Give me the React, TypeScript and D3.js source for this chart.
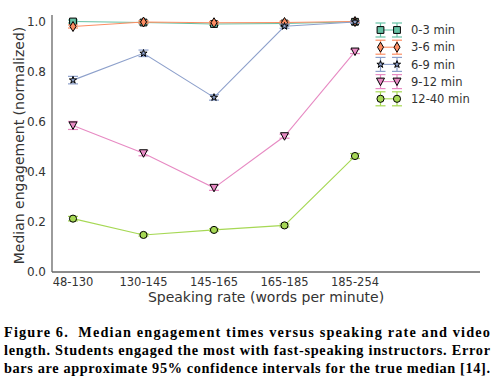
import * as d3 from "d3";
import React from "react";

const categories = ["48-130", "130-145", "145-165", "165-185", "185-254"];
const seriesNames = ["0-3 min", "3-6 min", "6-9 min", "9-12 min", "12-40 min"];
const seriesColors = ["#66c2a5", "#fc8d62", "#8da0cb", "#e78ac3", "#a6d854"];
const seriesMarkers = ["square", "thin_diamond", "star", "triangle_down", "circle"];

const values0to3 = [1.0, 0.996, 0.99, 0.992, 0.999];
const values3to6 = [0.98, 0.998, 0.995, 0.996, 1.0];
const values6to9 = [0.766, 0.873, 0.697, 0.981, 0.998];
const values9to12 = [0.585, 0.474, 0.336, 0.542, 0.88];
const values12to40 = [0.213, 0.148, 0.168, 0.186, 0.463];

const err0to3 = [0.006, 0.005, 0.005, 0.005, 0.004];
const err3to6 = [0.006, 0.005, 0.005, 0.005, 0.004];
const err6to9 = [0.015, 0.013, 0.011, 0.008, 0.005];
const err9to12 = [0.016, 0.01, 0.01, 0.008, 0.008];
const err12to40 = [0.009, 0.005, 0.005, 0.006, 0.01];

const allValues = [values0to3, values3to6, values6to9, values9to12, values12to40];
const allErrors = [err0to3, err3to6, err6to9, err9to12, err12to40];
const yTicks = [0.0, 0.2, 0.4, 0.6, 0.8, 1.0];

const captionLines = [
	"Figure 6.  Median engagement times versus speaking rate and video",
	"length. Students engaged the most with fast-speaking instructors. Error",
	"bars are approximate 95% confidence intervals for the true median [14].",
];

const W = 501;
const H = 384;
const plot = { left: 52, right: 480, top: 15, bottom: 272 };

const markerPath = (kind: string): string => {
	switch (kind) {
		case "square":
			return d3.symbol(d3.symbolSquare, 46)() as string;
		case "thin_diamond":
			return "M0,-5L3,0L0,5L-3,0Z";
		case "star":
			return d3.symbol(d3.symbolStar, 16)() as string;
		case "triangle_down":
			return "M-4,-3.5L4,-3.5L0,4Z";
		default:
			return d3.symbol(d3.symbolCircle, 40)() as string;
	}
};

const Marker = ({ kind, color, x, y }: { kind: string; color: string; x: number; y: number }) => (
	<path
		d={markerPath(kind)}
		transform={`translate(${x},${y})`}
		fill={color}
		stroke="#000"
		strokeWidth={1}
	/>
);

const ErrorBar = ({ x, y0, y1, color }: { x: number; y0: number; y1: number; color: string }) => (
	<g stroke={color} strokeWidth={1.2}>
		<line x1={x} x2={x} y1={y0} y2={y1} />
		<line x1={x - 5} x2={x + 5} y1={y0} y2={y0} />
		<line x1={x - 5} x2={x + 5} y1={y1} y2={y1} />
	</g>
);

export default function App() {
	const x = d3.scaleLinear().domain([0, 4]).range([73, 355]);
	const y = d3.scaleLinear().domain([0, 1]).range([plot.bottom, 21.5]);
	const line = d3
		.line<number>()
		.x((_, i) => x(i))
		.y((d) => y(d));

	const font = "DejaVu Sans, sans-serif";

	return (
		<svg width={W} height={H} style={{ position: "absolute", left: 0, top: 0, background: "#fff" }}>
			{/* spines */}
			<line x1={plot.left} x2={plot.left} y1={plot.top} y2={plot.bottom} stroke="#666" strokeWidth={1.3} />
			<line x1={plot.left} x2={plot.right} y1={plot.bottom} y2={plot.bottom} stroke="#666" strokeWidth={1.3} />

			{yTicks.map((t) => (
				<text key={t} x={plot.left - 6} y={y(t)} dy="0.36em" textAnchor="end" fontFamily={font} fontSize={12} fill="#333">
					{t.toFixed(1)}
				</text>
			))}
			{categories.map((c, i) => (
				<text key={c} x={x(i)} y={286} textAnchor="middle" fontFamily={font} fontSize={11.5} fill="#333">
					{c}
				</text>
			))}

			<text x={plot.left + (plot.right - plot.left) / 2} y={302} textAnchor="middle" fontFamily={font} fontSize={14} fill="#333">
				Speaking rate (words per minute)
			</text>
			<text
				transform={`translate(24,${(plot.top + plot.bottom) / 2 + 2}) rotate(-90)`}
				textAnchor="middle"
				fontFamily={font}
				fontSize={14}
				fill="#333"
			>
				Median engagement (normalized)
			</text>

			{allValues.map((vals, s) => (
				<g key={seriesNames[s]}>
					<path d={line(vals) as string} fill="none" stroke={seriesColors[s]} strokeWidth={1.1} />
					{vals.map((v, i) => (
						<ErrorBar key={i} x={x(i)} y0={y(v + allErrors[s][i])} y1={y(v - allErrors[s][i])} color={seriesColors[s]} />
					))}
					{vals.map((v, i) => (
						<Marker key={i} kind={seriesMarkers[s]} color={seriesColors[s]} x={x(i)} y={y(v)} />
					))}
				</g>
			))}

			{/* legend */}
			{seriesNames.map((name, s) => {
				const ly = 30 + s * 17.2;
				return (
					<g key={name}>
						<line x1={380.5} x2={397} y1={ly} y2={ly} stroke={seriesColors[s]} strokeWidth={1.1} />
						<ErrorBar x={380.5} y0={ly - 7} y1={ly + 7} color={seriesColors[s]} />
						<ErrorBar x={397} y0={ly - 7} y1={ly + 7} color={seriesColors[s]} />
						<Marker kind={seriesMarkers[s]} color={seriesColors[s]} x={380.5} y={ly} />
						<Marker kind={seriesMarkers[s]} color={seriesColors[s]} x={397} y={ly} />
						<text x={411} y={ly} dy="0.36em" fontFamily={font} fontSize={11.5} fill="#333">
							{name}
						</text>
					</g>
				);
			})}

			{captionLines.map((t, i) => (
				<text
					key={i}
					x={4}
					y={337 + i * 18}
					fontFamily="Liberation Serif, serif"
					fontWeight="bold"
					fontSize={14.3}
					textLength={486}
					lengthAdjust="spacing"
					fill="#000"
					style={{ whiteSpace: "pre" }}
				>
					{t}
				</text>
			))}
		</svg>
	);
}
